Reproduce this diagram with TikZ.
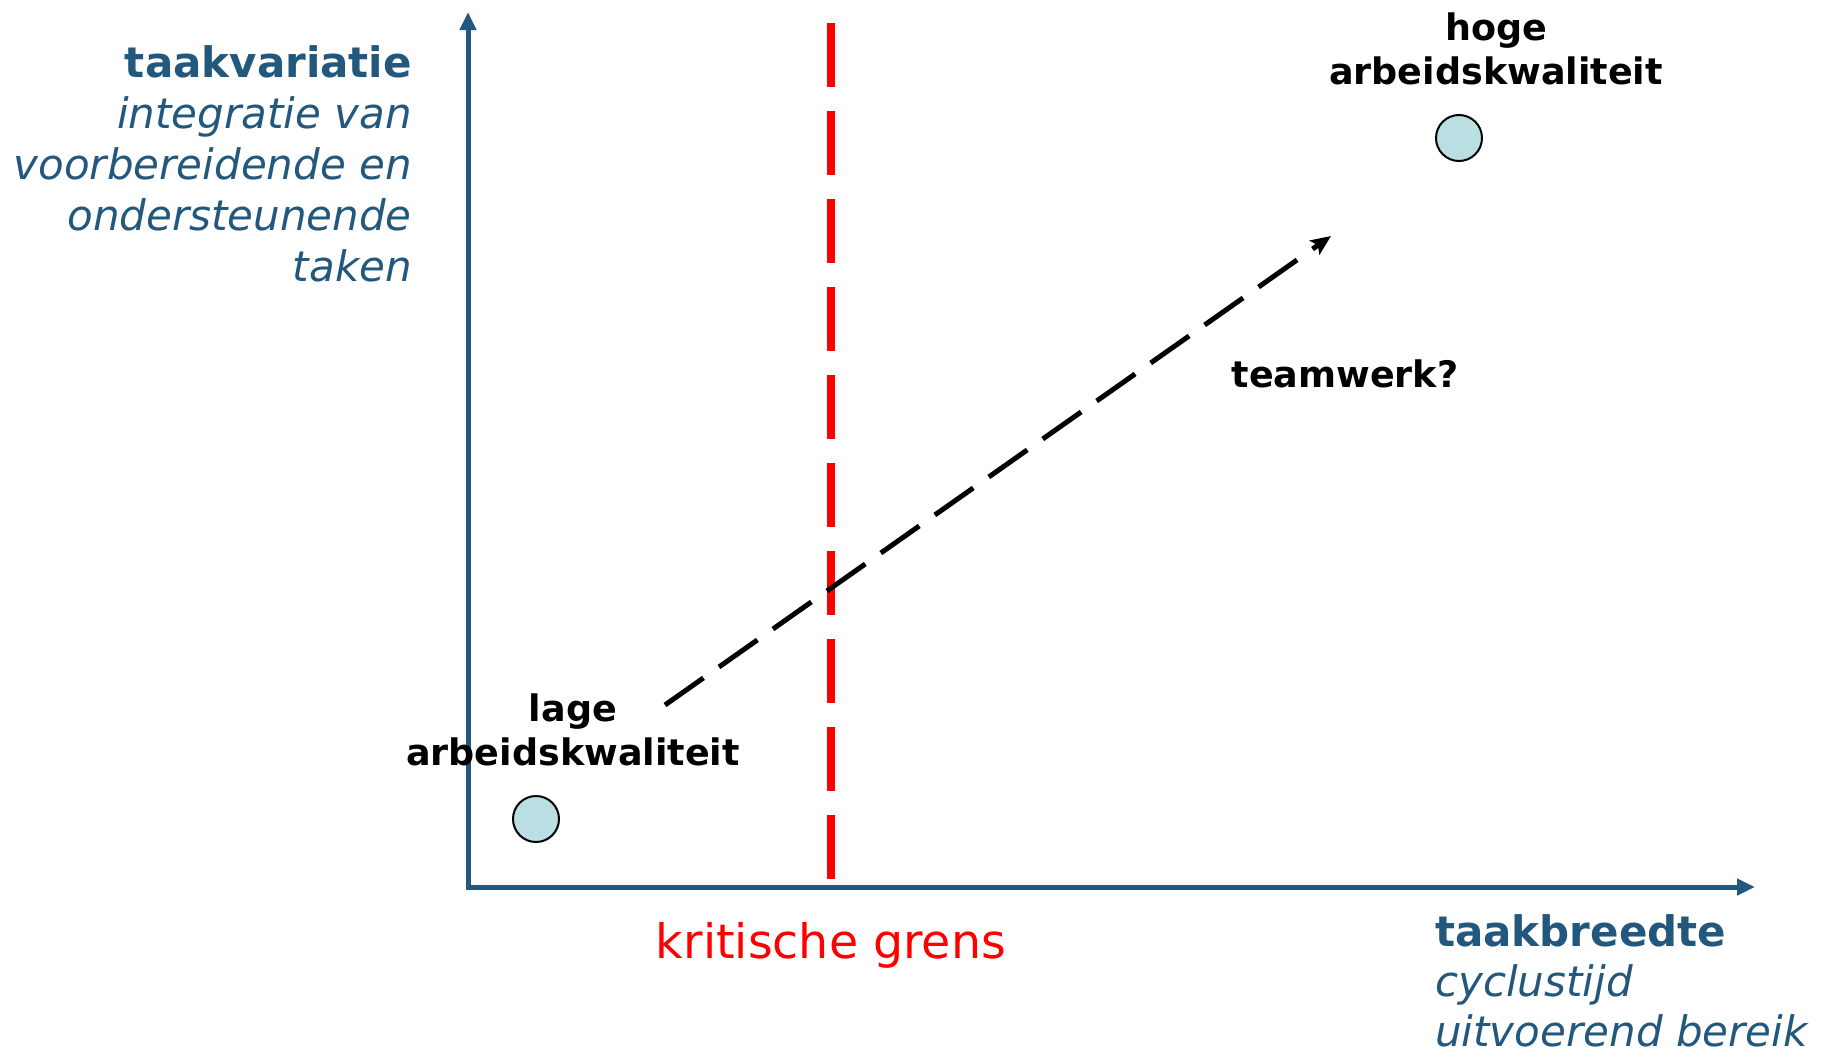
\documentclass[tikz,border=0pt]{standalone}
\usepackage{fontspec}
\setmainfont{DejaVu Sans}
\usetikzlibrary{arrows.meta}
\definecolor{axisblue}{RGB}{35,88,126}
\definecolor{dotfill}{RGB}{185,223,226}
\definecolor{limitred}{RGB}{255,0,0}
\begin{document}
\begin{tikzpicture}[x=1pt,y=-1pt,
  axisline/.style={draw=axisblue,line width=5pt,-{Triangle[length=18pt,width=16pt]}},
  limitline/.style={draw=limitred,line width=8pt,dash pattern=on 64pt off 24pt},
  trendline/.style={draw=black,line width=5pt,dash pattern=on 47pt off 19pt,
    -{Stealth[length=20pt,width=17pt,inset=4pt]}},
  dot/.style={circle,draw=black,line width=2pt,fill=dotfill,minimum size=46pt,inner sep=0pt},
  axislabel/.style={text=axisblue,inner sep=0pt,font=\fontsize{42}{50}\selectfont},
  statelabel/.style={text=black,inner sep=0pt,align=center,font=\fontsize{36.5}{44}\selectfont\bfseries}
]
\path[use as bounding box,fill=white] (0,0) rectangle (1829,1060);

% axes
\coordinate (O) at (468,887);
\coordinate (ytop) at (468,12);
\coordinate (xend) at (1755,887);
\draw[axisline] ([yshift=2.5pt]O) -- (ytop);
\draw[axisline] ([xshift=-2.5pt]O) -- (xend);

% critical boundary
\coordinate (redtop) at (831,23);
\coordinate (redbot) at (831,882);
\draw[limitline] (redtop) -- (redbot);

% quality states
\node[dot] (low) at (536,819) {};
\node[dot] (high) at (1459,138) {};

% development path
\coordinate (pathstart) at (665,705);
\coordinate (pathend) at (1331,236);
\draw[trendline] (pathstart) -- (pathend);

% labels
\node[axislabel,align=right,anchor=north east,font=\fontsize{42}{51}\selectfont] (ylab) at (412,45)
  {\textbf{taakvariatie}\\\textit{integratie van}\\\textit{voorbereidende en}\\\textit{ondersteunende}\\\textit{taken}};
\node[axislabel,align=left,anchor=north west] (xlab) at (1435,914)
  {\textbf{taakbreedte}\\\textit{cyclustijd}\\\textit{uitvoerend bereik}};
\node[statelabel,anchor=north] (highlab) at (1496,13) {hoge\\arbeidskwaliteit};
\node[statelabel,anchor=north] (lowlab) at (573,694) {lage\\arbeidskwaliteit};
\node[statelabel,anchor=north] (teamlab) at (1345,360) {teamwerk?};
\node[text=limitred,inner sep=0pt,anchor=north,font=\fontsize{47.5}{55}\selectfont] (redlab) at (831,922) {kritische grens};
\end{tikzpicture}
\end{document}
